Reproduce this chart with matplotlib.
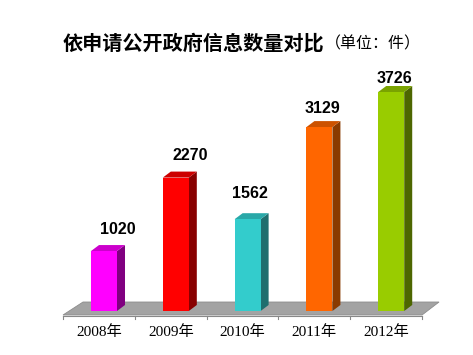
import matplotlib
matplotlib.use('Agg')
import matplotlib.pyplot as plt
from matplotlib.patches import Polygon

# 数据
years = ['2008年', '2009年', '2010年', '2011年', '2012年']
counts = [1020, 2270, 1562, 3129, 3726]

front_colors = ['#ff00ff', '#ff0000', '#33cccc', '#ff6600', '#99cc00']
side_colors = ['#800080', '#880000', '#1f6e6e', '#8a3a00', '#4d6600']
top_colors = ['#cc00cc', '#cc0000', '#29a8a8', '#cc5200', '#7aa300']

# 标签微调（像素）
label_dx = [14, 14, 2, 3, 3]
label_dy = [22, 22, 26, 19, 14]

fig = plt.figure(figsize=(4.73, 3.55), dpi=100)
ax = fig.add_axes([0, 0, 1, 1])
ax.set_xlim(-1.4485, 5.139)
ax.set_ylim(-748.6, 5291.4)
ax.axis('off')

px_x = 1 / 71.8      # 一个像素对应的x数据单位
px_y = 17.014        # 一个像素对应的y数据单位
w = 0.362
dx = 8 * px_x
dy = 6 * px_y

# 地板
floor = Polygon([(-0.571, -4 * px_y), (4.429, -4 * px_y),
                 (4.666, 9 * px_y), (-0.292, 9 * px_y)],
                closed=True, facecolor='#a3a3a3', edgecolor='#8c8c8c', lw=0.6, zorder=1)
ax.add_patch(floor)

# 坐标轴线和刻度
ax.plot([-0.571, 4.429], [-5 * px_y, -5 * px_y], color='#888888', lw=0.8, zorder=1)
for i in range(6):
    xt = -0.571 + i * 1.0
    ax.plot([xt, xt], [-5 * px_y, -8 * px_y], color='#888888', lw=0.8, zorder=1)

xs = list(range(len(years)))
ax.bar(xs, counts, width=w, color=front_colors, zorder=3)

for i, v in enumerate(counts):
    x = xs[i]
    side = Polygon([(x + w / 2, 0), (x + w / 2 + dx, dy), (x + w / 2 + dx, v + dy), (x + w / 2, v)],
                   closed=True, facecolor=side_colors[i], edgecolor='none', zorder=2)
    top = Polygon([(x - w / 2, v), (x + w / 2, v), (x + w / 2 + dx, v + dy), (x - w / 2 + dx, v + dy)],
                  closed=True, facecolor=top_colors[i], edgecolor='none', zorder=2)
    ax.add_patch(side)
    ax.add_patch(top)
    ax.text(x + label_dx[i] * px_x, v + label_dy[i] * px_y, str(v),
            ha='center', va='center', fontsize=11.5, fontweight='bold',
            family='Liberation Sans', zorder=4)
    ax.text(x - 0.07, -21 * px_y, years[i], ha='center', va='center', fontsize=11,
            family=['Liberation Serif', 'Noto Sans CJK SC'], zorder=4)

# 标题
fig.text(324 / 473, 1 - 43 / 355, '依申请公开政府信息数量对比', ha='right', va='center',
         fontsize=14.5, fontweight='bold', family=['Noto Sans CJK SC'])
fig.text(325 / 473, 1 - 44 / 355, '（单位：件）', ha='left', va='center',
         fontsize=11.5, family=['Noto Sans CJK SC'])

fig.savefig('out.png', dpi=100)
